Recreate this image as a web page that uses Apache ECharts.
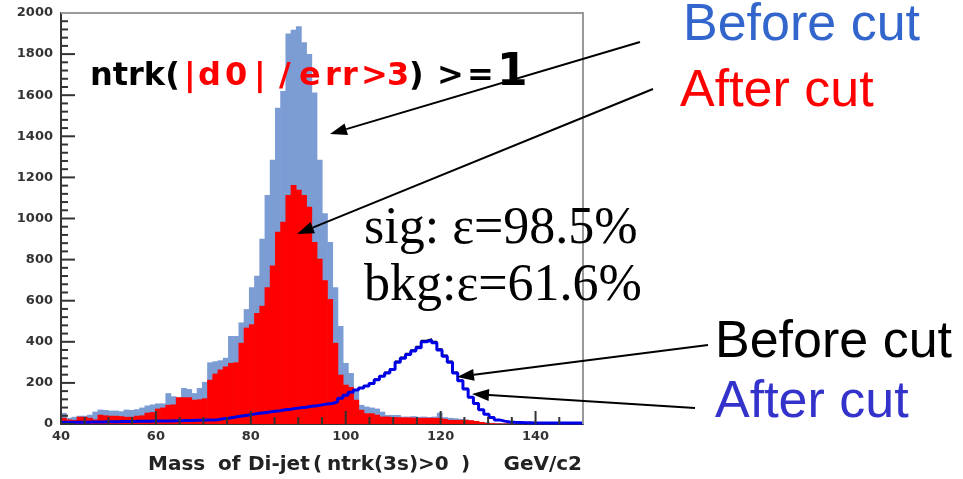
<!DOCTYPE html>
<html>
<head>
<meta charset="utf-8">
<script src="https://cdn.jsdelivr.net/npm/echarts@6/dist/echarts.min.js"></script>
<style>
  html, body { margin: 0; padding: 0; background: #fff; }
  #chart { width: 963px; height: 479px; }
</style>
</head>
<body>
<div id="chart"></div>
<script>
// Di-jet mass histograms: 100 bins of 1.1 GeV/c2 from 40 to 150
const binStart = 40;
const binWidth = 1.1;
const xTicks = [40, 60, 80, 100, 120, 140];
const yTicks = [0, 200, 400, 600, 800, 1000, 1200, 1400, 1600, 1800, 2000];

// Z background, before the ntrk cut (light blue fill)
const bkgBefore = [
  54, 30, 35, 40, 40, 45, 60, 70, 68, 65,
  65, 62, 70, 68, 72, 80, 90, 95, 100, 100,
  150, 135, 130, 175, 170, 150, 175, 205, 300, 305,
  310, 322, 428, 428, 494, 559, 665, 722, 902, 1114,
  1286, 1539, 1621, 1900, 1918, 1935, 1858, 1800, 1613, 1286,
  1025, 886, 665, 477, 297, 248, 160, 93, 85, 80,
  75, 60, 44, 44, 44, 36, 36, 38, 35, 36,
  34, 36, 55, 33, 30, 28, 25, 22, 18, 14,
  10, 8, 6, 5, 4, 3, 3, 2, 2, 2,
  1, 1, 1, 1, 1, 0, 0, 0, 0, 0
];

// Z background, after the ntrk cut (red fill)
const bkgAfter = [
  30, 22, 20, 35, 35, 30, 22, 45, 42, 40,
  40, 38, 35, 35, 40, 42, 55, 58, 75, 80,
  93, 95, 130, 130, 130, 118, 120, 125, 215, 245,
  265, 280, 297, 300, 395, 469, 485, 540, 575, 665,
  771, 935, 984, 1114, 1163, 1140, 1114, 1057, 886, 804,
  700, 608, 395, 240, 191, 180, 118, 69, 52, 52,
  45, 36, 36, 34, 33, 32, 32, 31, 30, 30,
  30, 30, 30, 25, 20, 20, 20, 20, 18, 15,
  10, 6, 4, 3, 2, 2, 1, 1, 1, 1,
  0, 0, 0, 0, 0, 0, 0, 0, 0, 0
];

// Signal, before the cut (black outline)
const sigBefore = [
  8, 8, 9, 9, 9, 10, 10, 10, 11, 11,
  11, 12, 12, 12, 13, 13, 13, 14, 14, 15,
  15, 16, 16, 17, 17, 18, 18, 19, 20, 21,
  25, 28, 32, 36, 40, 44, 48, 52, 55, 58,
  62, 65, 69, 72, 76, 79, 82, 86, 89, 93,
  97, 100, 108, 125, 140, 155, 165, 175, 185, 197,
  218, 235, 252, 269, 305, 325, 343, 360, 377, 406,
  414, 401, 365, 335, 305, 252, 213, 173, 132, 102,
  69, 48, 32, 20, 14, 10, 8, 7, 6, 6,
  5, 5, 5, 5, 5, 5, 5, 5, 5, 5
];

// Signal, after the cut (blue outline)
const sigAfter = [
  8, 8, 9, 9, 9, 10, 10, 10, 11, 11,
  11, 12, 12, 12, 13, 13, 13, 14, 14, 15,
  15, 16, 16, 17, 17, 18, 18, 19, 20, 21,
  25, 28, 32, 36, 40, 44, 48, 52, 55, 58,
  62, 65, 69, 72, 76, 79, 82, 86, 89, 93,
  97, 100, 108, 125, 140, 155, 165, 175, 185, 197,
  215, 232, 248, 265, 300, 320, 338, 355, 371, 400,
  408, 395, 360, 330, 300, 248, 210, 170, 130, 100,
  69, 48, 32, 20, 14, 10, 8, 7, 6, 6,
  5, 5, 5, 5, 5, 5, 5, 5, 5, 5
];

const xMin = 40, xMax = 150, yMin = 0, yMax = 2000;
const binLow = (i) => binStart + i * binWidth;

// tick marks drawn inside the frame: [value, length in px]
const xTickMarks = [];
for (let v = xMin; v < xMax; v += 5) xTickMarks.push([v, v % 20 === 0 ? 13 : 7]);
const yTickMarks = [];
for (let v = yMin; v <= yMax; v += 40) yTickMarks.push([v, v % 200 === 0 ? 14 : 7]);

// filled histogram drawn as one rect per bin
function filledHist(name, values, color, z) {
  return {
    type: 'custom',
    name: name,
    z: z,
    silent: true,
    data: values.map((v, i) => [binLow(i), binLow(i + 1), v]),
    encode: { x: [0, 1], y: 2 },
    renderItem: function (params, api) {
      const top = api.coord([api.value(0), api.value(2)]);
      const base = api.coord([api.value(1), 0]);
      return {
        type: 'rect',
        shape: { x: top[0], y: top[1], width: base[0] - top[0] + 0.6, height: base[1] - top[1] },
        style: { fill: color }
      };
    }
  };
}

// outline histogram as a stepped line over the bin edges
function stepHist(name, values, color, width, z) {
  const pts = values.map((v, i) => [binLow(i), v]);
  pts.push([binLow(values.length), values[values.length - 1]]);
  return {
    type: 'line',
    name: name,
    z: z,
    step: 'end',
    silent: true,
    symbol: 'none',
    data: pts,
    lineStyle: { color: color, width: width }
  };
}

// inward-pointing axis ticks, placed through the axis scales
function tickSeries(marks, horizontal) {
  return {
    type: 'custom',
    z: 30,
    silent: true,
    data: marks.map((m) => horizontal ? [m[0], yMin, m[1]] : [xMin, m[0], m[1]]),
    encode: { x: 0, y: 1 },
    renderItem: function (params, api) {
      const p = api.coord([api.value(0), api.value(1)]);
      const len = api.value(2);
      const shape = horizontal
        ? { x1: p[0], y1: p[1], x2: p[0], y2: p[1] - len }
        : { x1: p[0], y1: p[1], x2: p[0] + len, y2: p[1] };
      return { type: 'line', shape: shape, style: { stroke: '#333', lineWidth: 2 } };
    }
  };
}

function arrow(x1, y1, x2, y2) {
  const ang = Math.atan2(y2 - y1, x2 - x1);
  const L = 17, W = 6;
  const bx = x2 - L * Math.cos(ang), by = y2 - L * Math.sin(ang);
  const nx = -Math.sin(ang), ny = Math.cos(ang);
  return [
    { type: 'line', z: 100, silent: true, shape: { x1: x1, y1: y1, x2: bx, y2: by }, style: { stroke: '#000', lineWidth: 2 } },
    { type: 'polygon', z: 100, silent: true, shape: { points: [[x2, y2], [bx + nx * W, by + ny * W], [bx - nx * W, by - ny * W]] }, style: { fill: '#000' } }
  ];
}

function label(text, x, y, font, fill, align) {
  return {
    type: 'text', z: 100, silent: true,
    style: { text: text, x: x, y: y, font: font, fill: fill, textAlign: align || 'left', textVerticalAlign: 'middle' }
  };
}

const cutFont = 'bold 32px "DejaVu Sans"';
const bigFont = '52px "Liberation Sans"';
const serifFont = '52px "Liberation Serif"';
const titleFont = 'bold 20px "DejaVu Sans"';

const graphics = [
  // frame: top and right edges
  { type: 'line', z: 50, silent: true, shape: { x1: 61, y1: 13, x2: 584, y2: 13 }, style: { stroke: '#9a9a9a', lineWidth: 2 } },
  { type: 'line', z: 50, silent: true, shape: { x1: 583, y1: 12, x2: 583, y2: 424 }, style: { stroke: '#9a9a9a', lineWidth: 2 } },
  // cut description
  label('ntrk(', 90, 77, cutFont, '#000'),
  label('|', 184, 77, cutFont, '#ff0000'),
  label('d', 198, 77, cutFont, '#ff0000'),
  label('0', 225, 77, cutFont, '#ff0000'),
  label('|', 254, 77, cutFont, '#ff0000'),
  label('/', 279, 77, cutFont, '#ff0000'),
  label('e', 299, 77, cutFont, '#ff0000'),
  label('r', 325, 77, cutFont, '#ff0000'),
  label('r', 342, 77, cutFont, '#ff0000'),
  label('>', 361, 77, cutFont, '#ff0000'),
  label('3', 387, 77, cutFont, '#ff0000'),
  label(')', 409, 77, cutFont, '#000'),
  label('>', 437, 77, cutFont, '#000'),
  label('=', 467, 77, cutFont, '#000'),
  label('1', 497, 74, 'bold 44px "DejaVu Sans"', '#000'),
  // captions
  label('Before cut', 683, 26, bigFont, '#3366cc'),
  label('After cut', 680, 92, bigFont, '#ff0000'),
  label('sig: \u03b5=98.5%', 364, 229, serifFont, '#000'),
  label('bkg:\u03b5=61.6%', 364, 286, serifFont, '#000'),
  label('Before cut', 715, 343, bigFont, '#000'),
  label('After cut', 715, 403, bigFont, '#3333cc'),
  // x-axis title
  label('Mass', 148, 465, titleFont, '#222'),
  label('of', 218, 465, titleFont, '#222'),
  label('Di-jet', 248, 465, titleFont, '#222'),
  label('(', 313, 465, titleFont, '#222'),
  label('ntrk(3s)>0', 327, 465, titleFont, '#222'),
  label(')', 461, 465, titleFont, '#222'),
  label('GeV/c2', 582, 465, titleFont, '#222', 'right')
]
  .concat(arrow(640, 42, 330, 134))
  .concat(arrow(653, 89, 297, 234))
  .concat(arrow(708, 345, 457, 377))
  .concat(arrow(695, 408, 472, 394));

const tickFont = { fontFamily: 'DejaVu Sans', fontWeight: 'bold', fontSize: 13, color: '#333' };

const chart = echarts.init(document.getElementById('chart'));
chart.setOption({
  animation: false,
  grid: { left: 61, right: 380, top: 13, bottom: 55 },
  xAxis: {
    type: 'value',
    min: xMin, max: xMax, interval: 20,
    axisLine: { show: true, onZero: false, lineStyle: { color: '#333', width: 2 } },
    axisTick: { show: false },
    minorTick: { show: false },
    splitLine: { show: false },
    axisLabel: Object.assign({
      margin: 6,
      formatter: (v) => (xTicks.indexOf(v) >= 0 ? String(v) : '')
    }, tickFont)
  },
  yAxis: {
    type: 'value',
    min: yTicks[0], max: yTicks[yTicks.length - 1], interval: 200,
    axisLine: { show: true, lineStyle: { color: '#333', width: 2 } },
    axisTick: { show: false },
    minorTick: { show: false },
    splitLine: { show: false },
    axisLabel: Object.assign({ margin: 8, formatter: (v) => String(v) }, tickFont)
  },
  series: [
    filledHist('Before cut (bkg)', bkgBefore, '#7c9cd4', 2),
    filledHist('After cut (bkg)', bkgAfter, '#ff0000', 3),
    stepHist('Before cut (sig)', sigBefore, '#000', 1.5, 4),
    stepHist('After cut (sig)', sigAfter, '#0000e6', 3, 5),
    tickSeries(xTickMarks, true),
    tickSeries(yTickMarks, false)
  ],
  graphic: { elements: graphics }
});
</script>
</body>
</html>
